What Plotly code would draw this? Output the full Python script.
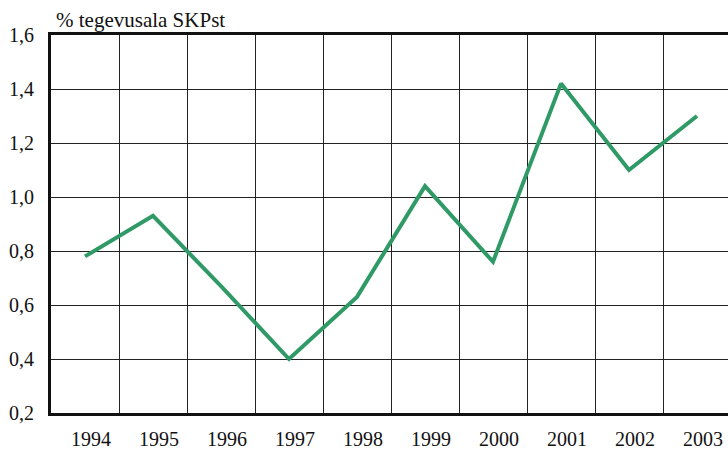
import plotly.graph_objects as go

years = ["1994", "1995", "1996", "1997", "1998", "1999", "2000", "2001", "2002", "2003"]
share = [0.78, 0.93, 0.67, 0.40, 0.63, 1.04, 0.76, 1.42, 1.10, 1.30]
y_label = "% tegevusala SKPst"

fig = go.Figure()
fig.add_trace(go.Scatter(
    x=years, y=share, mode="lines",
    line=dict(color="#2f9a66", width=4),
    hoverinfo="x+y",
))

font_family = "Liberation Serif"
fig.update_layout(
    width=728, height=450,
    margin=dict(l=51, r=0, t=35, b=37, autoexpand=False),
    paper_bgcolor="white", plot_bgcolor="white",
    separators=", ",
    showlegend=False,
    font=dict(family=font_family, size=20, color="#111"),
    annotations=[dict(
        text=y_label, xref="paper", yref="paper",
        x=0, y=1, xanchor="left", yanchor="bottom",
        xshift=3, yshift=1, showarrow=False,
        font=dict(family=font_family, size=21, color="#111"),
    )],
)
fig.update_xaxes(
    type="category",
    range=[-0.5, -0.5 + 677 / 68.0],
    tickson="boundaries",
    showgrid=True, gridcolor="#222", gridwidth=1,
    showline=True, linecolor="#111", linewidth=3, mirror=True,
    ticks="", ticklabelshift=6, ticklabelstandoff=6,
    tickfont=dict(family=font_family, size=20),
    zeroline=False, automargin=False,
)
fig.update_yaxes(
    range=[0.2, 1.6], dtick=0.2, tick0=0.2, tickformat=".1f",
    showgrid=True, gridcolor="#222", gridwidth=1,
    showline=True, linecolor="#111", linewidth=3,
    ticks="", ticklabelstandoff=10,
    tickfont=dict(family=font_family, size=20),
    zeroline=False, automargin=False,
)

fig.write_html(
    "out.html",
    config={"displayModeBar": False},
    post_script="document.body.style.margin='0';document.body.style.overflow='hidden';",
)
